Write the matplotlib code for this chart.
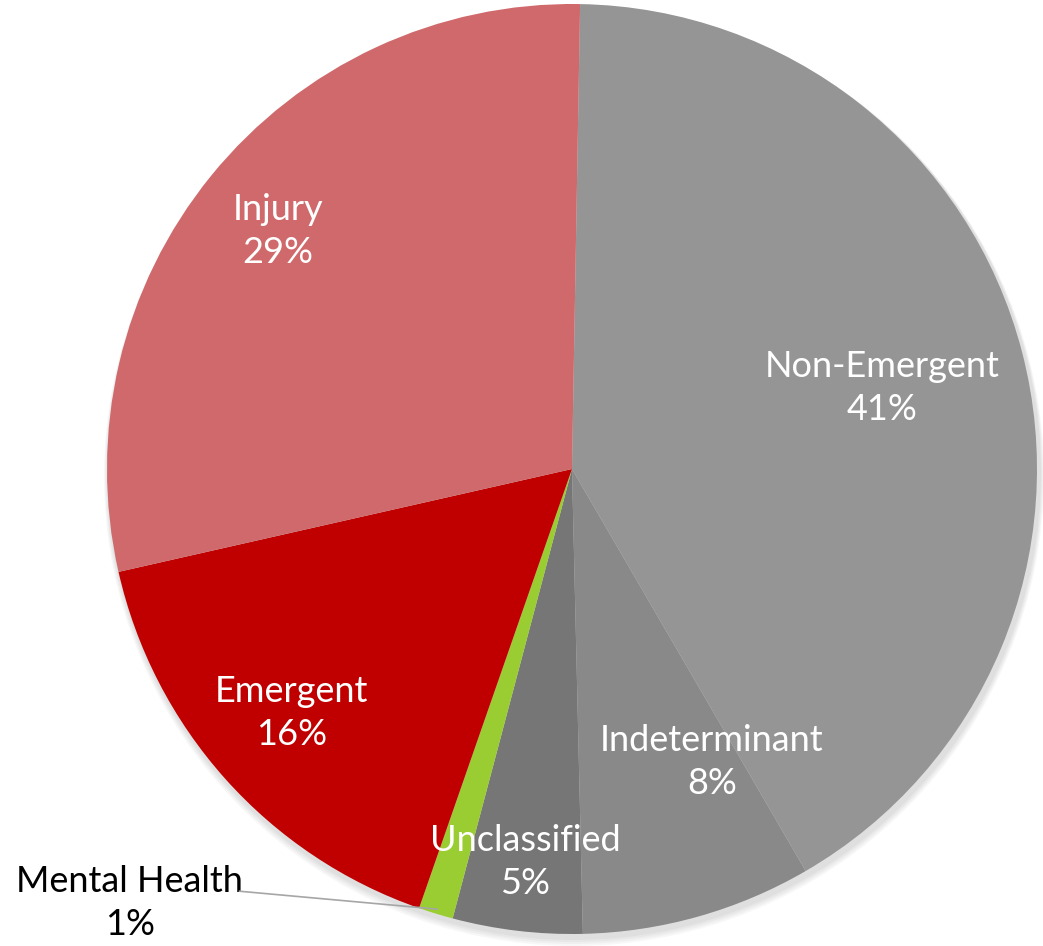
import matplotlib.pyplot as plt
from matplotlib.patches import Circle
import numpy as np

# data (percent of visits)
categories = ['Non-Emergent', 'Indeterminant', 'Unclassified', 'Mental Health', 'Emergent', 'Injury']
values = [41.3, 8.0, 4.5, 1.2, 16.1, 28.8]
pct_labels = ['41%', '8%', '5%', '1%', '16%', '29%']
colors = ['#959595', '#898989', '#767676', '#9ACD32', '#C00000', '#D0696B']

plt.rcParams['font.family'] = ['Lato', 'DejaVu Sans']

fig = plt.figure(figsize=(10.43, 9.46), dpi=100)
ax = fig.add_axes([0, 0, 1, 1])

cx, cy, r = 572, 477, 465

# soft shadow under the pie
for i in range(4):
    ax.add_patch(Circle((cx + 2, cy - 4 - i), r + 2 + i, color='black', alpha=0.03, lw=0, zorder=0))

wedges, _ = ax.pie(values, colors=colors, startangle=89, counterclock=False,
                   center=(cx, cy), radius=r, frame=True,
                   wedgeprops=dict(linewidth=0))
ax.set_xlim(0, 1043)
ax.set_ylim(0, 946)
ax.set_aspect('equal')
ax.axis('off')

# label offsets from centre (in radius units)
label_pos = [(0.667, 0.174), (0.301, -0.630), (-0.101, -0.845), (-0.951, -0.933), (-0.604, -0.525), (-0.632, 0.512)]
label_col = ['white', 'white', 'white', 'black', 'white', 'white']

for name, pct, (dx, dy), c in zip(categories, pct_labels, label_pos, label_col):
    ax.text(cx + dx * r, cy + dy * r, f'{name}\n{pct}', color=c, fontsize=26,
            ha='center', va='center', linespacing=1.38)

# leader line for Mental Health
w = wedges[3]
mid = np.deg2rad((w.theta1 + w.theta2) / 2)
ex, ey = cx + r * 0.99 * np.cos(mid), cy + r * 0.99 * np.sin(mid)
ax.plot([cx - 0.715 * r, ex], [cy - 0.908 * r, ey], color='#A6A6A6', lw=1.2, zorder=5)

fig.savefig('out.png', dpi=100, facecolor='white')
